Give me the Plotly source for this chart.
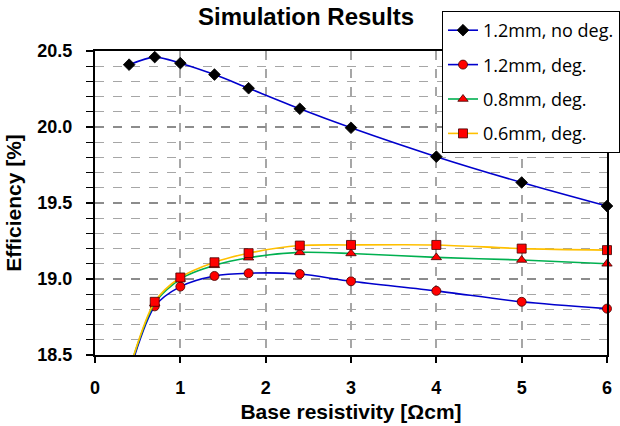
import plotly.graph_objects as go

x_nodeg = [0.4, 0.7, 1.0, 1.4, 1.8, 2.4, 3, 4, 5, 6]
y_nodeg = [20.41, 20.46, 20.42, 20.345, 20.255, 20.12, 19.995, 19.805, 19.635, 19.48]

x_deg = [0.4, 0.7, 1.0, 1.4, 1.8, 2.4, 3, 4, 5, 6]
y_12deg = [18.38, 18.82, 18.95, 19.02, 19.038, 19.033, 18.985, 18.922, 18.85, 18.805]
y_08deg = [18.40, 18.84, 19.0, 19.09, 19.14, 19.175, 19.168, 19.142, 19.125, 19.10]
y_06deg = [18.40, 18.85, 19.01, 19.11, 19.17, 19.22, 19.224, 19.224, 19.20, 19.19]

x_ticks = [0, 1, 2, 3, 4, 5, 6]
y_ticks = [18.5, 19.0, 19.5, 20.0, 20.5]

names = ["1.2mm, no deg.", "1.2mm, deg.", "0.8mm, deg.", "0.6mm, deg."]

fig = go.Figure()

def add(xs, ys, name, lcolor, symbol, mcolor, grp):
    fig.add_trace(go.Scatter(
        x=xs, y=ys, name=name, mode="lines+markers",
        line=dict(color=lcolor, width=1.6, shape="spline", smoothing=0.8),
        marker=dict(symbol=symbol, color=mcolor, size=9,
                    line=dict(color="#400000" if mcolor != "black" else "black", width=0.8)),
        cliponaxis=False, legendgroup=grp,
    ))

add(x_nodeg, y_nodeg, names[0], "#0000cc", "diamond", "black", "a")
add(x_deg, y_12deg, names[1], "#0000cc", "circle", "#ff0000", "b")
add(x_deg, y_08deg, names[2], "#00b050", "triangle-up", "#ff0000", "c")
add(x_deg, y_06deg, names[3], "#ffc000", "square", "#ff0000", "d")

tickfont = dict(family="Liberation Sans, Arial", size=18, color="black", weight="bold")
titlefont = dict(family="Liberation Sans, Arial", size=21, color="black", weight="bold")

fig.update_layout(
    width=620, height=426,
    margin=dict(l=95, r=13, t=51, b=71, autoexpand=False),
    paper_bgcolor="white", plot_bgcolor="white",
    title=dict(text="Simulation Results", x=306/620, xanchor="center",
               y=1 - 17/426, yanchor="middle",
               font=dict(family="Liberation Sans, Arial", size=24, color="black", weight="bold")),
    legend=dict(x=(442 - 95) / 512, y=(355 - 11) / 304, xanchor="left", yanchor="top",
                bgcolor="white", bordercolor="black", borderwidth=1,
                font=dict(family="Open Sans, Noto Sans", size=18, color="black"),
                tracegroupgap=8, itemwidth=30, entrywidth=150),
    showlegend=True,
)

fig.update_xaxes(
    range=[0, 6], tickvals=x_ticks, ticktext=[str(v) for v in x_ticks],
    showline=True, linecolor="black", linewidth=2, mirror=True,
    ticks="outside", ticklen=6, tickcolor="black", tickwidth=1.5,
    showgrid=True, gridcolor="#a6a6a6", griddash="dash", gridwidth=1.5,
    zeroline=False, tickfont=tickfont, ticklabelstandoff=9,
    title=dict(text="Base resistivity [Ωcm]", font=titlefont, standoff=8),
)
fig.update_yaxes(
    range=[18.5, 20.5], tickvals=y_ticks, ticktext=[f"{v:.1f}" for v in y_ticks],
    showline=True, linecolor="black", linewidth=2, mirror=True,
    ticks="outside", ticklen=7, tickcolor="black", tickwidth=1.5,
    showgrid=True, gridcolor="#8c8c8c", griddash="dash", gridwidth=1.5,
    minor=dict(dtick=0.1, showgrid=True, gridcolor="#a6a6a6", griddash="dash", gridwidth=1.2,
               ticks="outside", ticklen=7, tickcolor="black", tickwidth=1.2),
    zeroline=False, tickfont=tickfont, ticklabelstandoff=10,
    title=dict(text="Efficiency [%]", font=titlefont, standoff=10),
)

fig.write_html("out.html")
